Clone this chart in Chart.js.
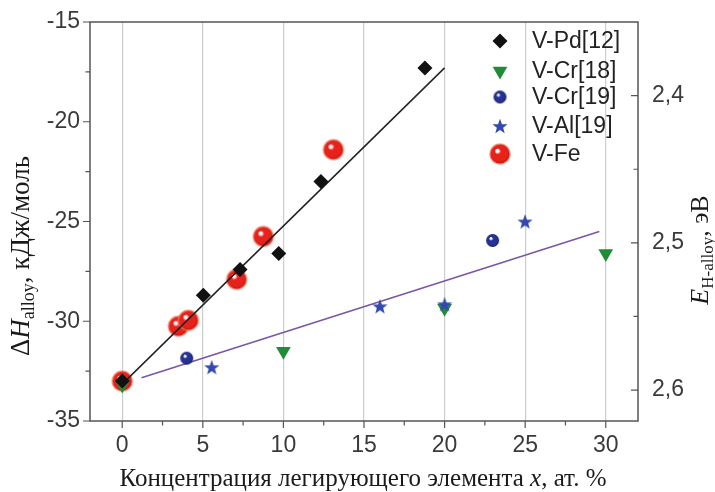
<!DOCTYPE html>
<html>
<head>
<meta charset="utf-8">
<script src="https://cdn.jsdelivr.net/npm/chart.js@4.4.1/dist/chart.umd.min.js"></script>
<style>
html,body{margin:0;padding:0;background:#fff;}
#wrap{width:715px;height:492px;}
</style>
</head>
<body>
<div id="wrap"><canvas id="c" width="715" height="492"></canvas></div>
<script>
// ---- data ----
const pdX = [0, 5.03, 7.31, 9.71, 12.33, 18.78];
const pdY = [-33.0, -28.7, -27.4, -26.6, -23.0, -17.3];
const cr18X = [0, 10, 20, 30];
const cr18Y = [-33.2, -31.5, -29.35, -26.6];
const cr19X = [4.0, 22.98];
const cr19Y = [-31.85, -25.95];
const alX = [5.55, 15.99, 20.0, 24.99];
const alY = [-32.3, -29.25, -29.15, -25.0];
const feX = [0, 3.48, 4.1, 7.1, 8.75, 13.1];
const feY = [-33.0, -30.25, -29.95, -27.9, -25.75, -21.4];
const pdFitX = [0, 20];
const pdFitY = [-33.15, -17.3];
const crFitX = [1.2, 29.6];
const crFitY = [-32.83, -25.5];

const seriesNames = ['V-Pd[12]', 'V-Cr[18]', 'V-Cr[19]', 'V-Al[19]', 'V-Fe'];

const xTickValues = [0, 2.5, 5, 7.5, 10, 12.5, 15, 17.5, 20, 22.5, 25, 27.5, 30];
const xTickLabels = ['0', '', '5', '', '10', '', '15', '', '20', '', '25', '', '30'];
const yTickValues = [-35, -32.5, -30, -27.5, -25, -22.5, -20, -17.5, -15];
const yTickLabels = ['-35', '', '-30', '', '-25', '', '-20', '', '-15'];
const rTickValues = [2.4, 2.45, 2.5, 2.55, 2.6];
const rTickLabels = ['2,4', '', '2,5', '', '2,6'];

const xTitle = ['Концентрация легирующего элемента ', 'x', ', ат. %'];
const yTitle = ['Δ', 'H', 'alloy', ', кДж/моль'];
const rTitle = ['E', 'H-alloy', ', эВ'];

const pts = (xs, ys) => xs.map((x, i) => ({x: x, y: ys[i]}));

// ---- marker images ----
function makeSphere(d, base, dark, rim) {
  const c = document.createElement('canvas');
  c.width = d + 4; c.height = d + 4;
  const g = c.getContext('2d');
  const cx = c.width / 2, cy = c.height / 2, r = d / 2;
  const grad = g.createRadialGradient(cx - 0.32 * r, cy - 0.38 * r, 0, cx, cy, r);
  grad.addColorStop(0, '#ffffff');
  grad.addColorStop(0.14, '#ffffff');
  grad.addColorStop(0.32, base);
  grad.addColorStop(0.8, base);
  grad.addColorStop(1, dark);
  g.beginPath();
  g.arc(cx, cy, r, 0, Math.PI * 2);
  g.fillStyle = grad;
  g.fill();
  if (rim) { g.lineWidth = 1.5; g.strokeStyle = rim; g.stroke(); }
  return c;
}
function makeStar(R, r0, color) {
  const c = document.createElement('canvas');
  c.width = Math.ceil(2 * R + 2); c.height = Math.ceil(2 * R + 2);
  const g = c.getContext('2d');
  const cx = c.width / 2, cy = c.height / 2 + 0.8;
  g.beginPath();
  for (let i = 0; i < 10; i++) {
    const rr = i % 2 === 0 ? R : r0;
    const a = -Math.PI / 2 + i * Math.PI / 5;
    const px = cx + rr * Math.cos(a), py = cy + rr * Math.sin(a);
    if (i === 0) g.moveTo(px, py); else g.lineTo(px, py);
  }
  g.closePath();
  g.fillStyle = color;
  g.fill();
  return c;
}
const redBall = makeSphere(20, '#e8211b', '#b3120e', 'rgba(245,130,100,0.75)');
const navyBall = makeSphere(13, '#253193', '#121a5e', null);
const blueStar = makeStar(8, 3.3, '#3449b0');

const markers = [
  {pointStyle: 'rectRot', radius: 7.5, rotation: 0, color: '#111111'},
  {pointStyle: 'triangle', radius: 8.5, rotation: 180, color: '#1f8d36'},
  {pointStyle: navyBall, radius: 7, rotation: 0, color: '#253193'},
  {pointStyle: blueStar, radius: 8, rotation: 0, color: '#3449b0'},
  {pointStyle: redBall, radius: 10, rotation: 0, color: '#e8211b'}
];

function scatterSet(label, data, m, order) {
  return {
    label: label, data: data, order: order,
    pointStyle: m.pointStyle, pointRadius: m.radius, pointHoverRadius: m.radius,
    rotation: m.rotation, backgroundColor: m.color, borderColor: m.color,
    pointBorderWidth: 0, showLine: false
  };
}

const serif = '"Liberation Serif", "Times New Roman", serif';
const sans = '"Liberation Sans", Arial, sans-serif';

function drawRich(ctx, segs, x, y, rot) {
  ctx.save();
  ctx.translate(x, y);
  ctx.rotate(rot);
  ctx.textBaseline = 'alphabetic';
  ctx.textAlign = 'left';
  let total = 0;
  segs.forEach(s => { ctx.font = s.font; s.w = ctx.measureText(s.text).width; total += s.w; });
  let cx = -total / 2;
  segs.forEach(s => {
    ctx.font = s.font;
    ctx.fillStyle = '#1a1a1a';
    ctx.fillText(s.text, cx, s.dy || 0);
    cx += s.w;
  });
  ctx.restore();
}

const decor = {
  id: 'decor',
  afterDraw(chart) {
    const ctx = chart.ctx;
    const a = chart.chartArea;
    const sx = chart.scales.x, sy = chart.scales.y, sr = chart.scales.y1;
    ctx.save();
    // frame
    ctx.strokeStyle = '#555555';
    ctx.lineWidth = 1.5;
    ctx.strokeRect(a.left, a.top, a.right - a.left, a.bottom - a.top);
    // ticks
    ctx.beginPath();
    sx.ticks.forEach((t, i) => {
      const p = sx.getPixelForValue(t.value);
      const len = xTickLabels[i] ? 7 : 4.5;
      ctx.moveTo(p, a.bottom); ctx.lineTo(p, a.bottom + len);
    });
    sy.ticks.forEach((t, i) => {
      const p = sy.getPixelForValue(t.value);
      const len = yTickLabels[i] ? 7 : 4.5;
      ctx.moveTo(a.left, p); ctx.lineTo(a.left - len, p);
    });
    sr.ticks.forEach((t, i) => {
      const p = sr.getPixelForValue(t.value);
      const len = rTickLabels[i] ? 7 : 4.5;
      ctx.moveTo(a.right, p); ctx.lineTo(a.right - len, p);
    });
    ctx.lineWidth = 1.2;
    ctx.stroke();

    // legend
    const lx = 500, tx = 532;
    const rows = [41, 71, 97, 126, 154];
    ctx.font = '23px ' + sans;
    ctx.textBaseline = 'middle';
    ctx.textAlign = 'left';
    markers.forEach((m, i) => {
      ctx.fillStyle = m.color;
      ctx.strokeStyle = m.color;
      if (typeof m.pointStyle === 'string') {
        Chart.helpers.drawPoint(ctx, {pointStyle: m.pointStyle, radius: m.radius, rotation: m.rotation, borderWidth: 0}, lx, rows[i]);
      } else {
        const img = m.pointStyle;
        ctx.drawImage(img, lx - img.width / 2, rows[i] - img.height / 2);
      }
      ctx.fillStyle = '#222222';
      ctx.fillText(seriesNames[i], tx, rows[i] + 1);
    });
    ctx.restore();

    // titles
    drawRich(ctx, [
      {text: xTitle[0], font: '25px ' + serif},
      {text: xTitle[1], font: 'italic 25px ' + serif},
      {text: xTitle[2], font: '25px ' + serif}
    ], 363, 486, 0);
    drawRich(ctx, [
      {text: yTitle[0], font: '27px ' + serif},
      {text: yTitle[1], font: 'italic 27px ' + serif},
      {text: yTitle[2], font: '18px ' + serif, dy: 5},
      {text: yTitle[3], font: '27px ' + serif}
    ], 29, 256, -Math.PI / 2);
    drawRich(ctx, [
      {text: rTitle[0], font: 'italic 26px ' + serif},
      {text: rTitle[1], font: '17px ' + serif, dy: 5},
      {text: rTitle[2], font: '26px ' + serif}
    ], 708, 250, -Math.PI / 2);
  }
};

const tickFont = {family: sans, size: 23};
const tickColor = '#3a3a3a';
const noPad = s => { s.paddingTop = 0; s.paddingBottom = 0; s.paddingLeft = 0; s.paddingRight = 0; };

new Chart(document.getElementById('c'), {
  type: 'scatter',
  data: {
    datasets: [
      scatterSet(seriesNames[0], pts(pdX, pdY), markers[0], 0),
      scatterSet(seriesNames[3], pts(alX, alY), markers[3], 1),
      scatterSet(seriesNames[2], pts(cr19X, cr19Y), markers[2], 2),
      scatterSet(seriesNames[1], pts(cr18X, cr18Y), markers[1], 3),
      {label: 'fitPd', data: pts(pdFitX, pdFitY), showLine: true, pointRadius: 0, borderColor: '#222222', borderWidth: 1.5, fill: false, order: 4},
      {label: 'fitCr', data: pts(crFitX, crFitY), showLine: true, pointRadius: 0, borderColor: '#7b55a8', borderWidth: 1.6, fill: false, order: 4},
      scatterSet(seriesNames[4], pts(feX, feY), markers[4], 5)
    ]
  },
  options: {
    responsive: false,
    animation: false,
    events: [],
    layout: {padding: {top: 22, left: 0, right: 0, bottom: 0}},
    plugins: {legend: {display: false}, tooltip: {enabled: false}},
    scales: {
      x: {
        type: 'linear', position: 'bottom', min: -2, max: 32,
        afterBuildTicks: s => { s.ticks = xTickValues.map(v => ({value: v})); },
        afterFit: s => { s.height = 71; noPad(s); },
        grid: {
          drawTicks: false,
          lineWidth: 1.2,
          color: c => (c.tick && xTickLabels[c.index]) ? '#cdcdcd' : 'rgba(0,0,0,0)'
        },
        border: {display: false},
        ticks: {autoSkip: false, maxRotation: 0, padding: 11, color: tickColor, font: tickFont,
          callback: (v, i) => xTickLabels[i]}
      },
      y: {
        type: 'linear', position: 'left', min: -35, max: -15,
        afterBuildTicks: s => { s.ticks = yTickValues.map(v => ({value: v})); },
        afterFit: s => { s.width = 90; noPad(s); },
        grid: {display: false, drawTicks: false},
        border: {display: false},
        ticks: {autoSkip: false, padding: 10, color: tickColor, font: tickFont,
          callback: (v, i) => yTickLabels[i]}
      },
      y1: {
        type: 'linear', position: 'right', reverse: true, min: 2.35, max: 2.621, display: true,
        afterBuildTicks: s => { s.ticks = rTickValues.map(v => ({value: v})); },
        afterFit: s => { s.width = 77; noPad(s); },
        grid: {display: false, drawTicks: false},
        border: {display: false},
        ticks: {autoSkip: false, padding: 14, color: tickColor, font: tickFont,
          callback: (v, i) => rTickLabels[i]}
      }
    }
  },
  plugins: [decor]
});
</script>
</body>
</html>
